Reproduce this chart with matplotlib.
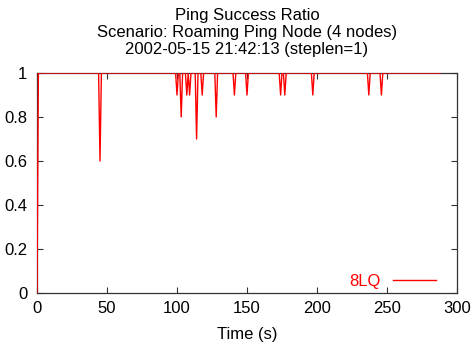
import numpy as np
import matplotlib
matplotlib.use('Agg')
import matplotlib.pyplot as plt
from matplotlib.ticker import FormatStrFormatter

plt.rcParams['font.family'] = ['Liberation Sans', 'DejaVu Sans']
plt.rcParams['font.size'] = 12

# ping success ratio, sampled every second; mostly 1 with a few dips
time = np.arange(0, 289)
ratio = np.ones(len(time))
ratio[0] = 0.0
dip_times = [45, 100, 103, 107, 109, 114, 118, 128, 141, 150, 174, 177, 197, 237, 246]
dip_values = [0.6, 0.9, 0.8, 0.9, 0.9, 0.7, 0.9, 0.8, 0.9, 0.9, 0.9, 0.9, 0.9, 0.9, 0.9]
for t, v in zip(dip_times, dip_values):
    ratio[t] = v

fig = plt.figure(figsize=(4.77, 3.46), dpi=100)
ax = fig.add_axes([37/477, 53/346, 420/477, 220/346])

ax.plot(time, ratio, color='#ff0000', linewidth=1.0, label='8LQ', zorder=3)

ax.set_xlim(0, 300)
ax.set_ylim(0, 1)
ax.set_xticks(np.arange(0, 301, 50))
ax.set_yticks(np.arange(0, 1.01, 0.2))
ax.yaxis.set_major_formatter(FormatStrFormatter('%g'))
ax.tick_params(direction='in', top=True, right=True, length=4, width=0.8,
               color='#333333')
ax.tick_params(axis='x', pad=6)
ax.tick_params(axis='y', pad=7)
for s in ax.spines.values():
    s.set_color('#333333')
    s.set_linewidth(0.9)

ax.set_xlabel('Time (s)', labelpad=8)
ax.set_title('Ping Success Ratio\nScenario: Roaming Ping Node (4 nodes)\n'
             '2002-05-15 21:42:13 (steplen=1)', fontsize=12, linespacing=1.15, pad=14)

leg = ax.legend(loc='lower right', frameon=False, markerfirst=False,
                handlelength=2.6, handletextpad=0.7, labelcolor='#ff0000',
                bbox_to_anchor=(0.986, -0.05))

fig.savefig('out.png', dpi=100)
